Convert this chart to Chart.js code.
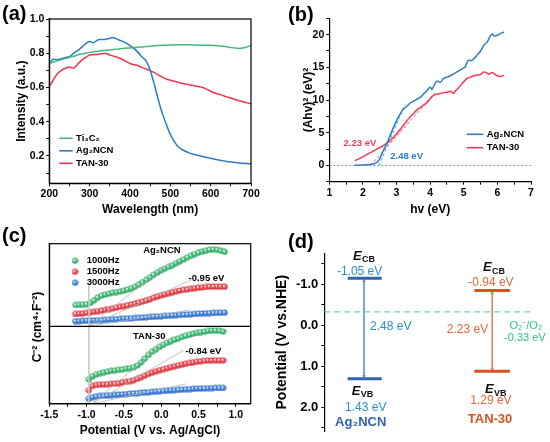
<!DOCTYPE html>
<html lang="en">
<head>
<meta charset="UTF-8">
<title>Optical absorption, Tauc, Mott-Schottky and band positions</title>
<script src="https://cdn.jsdelivr.net/npm/chart.js@4.4.1/dist/chart.umd.min.js"></script>
<style>
  html, body { margin: 0; padding: 0; background: #fff; }
  #fig { position: relative; width: 550px; height: 442px; overflow: hidden; }
  .panel { position: absolute; width: 275px; height: 221px; }
</style>
</head>
<body>
<div id="fig">
  <div class="panel" style="left:0;top:0"><canvas id="chartA"></canvas></div>
  <div class="panel" style="left:275px;top:0"><canvas id="chartB"></canvas></div>
  <div class="panel" style="left:0;top:221px"><canvas id="chartC"></canvas></div>
  <div class="panel" style="left:275px;top:221px"><canvas id="chartD"></canvas></div>
</div>
<script>
// ---- (a) UV-vis DRS ----
var wavelength = [200,210,220,230,240,250,260,270,280,290,300,310,320,330,340,350,360,370,380,390,
  400,410,420,430,440,450,460,470,480,490,500,510,520,530,540,550,560,570,580,590,
  600,610,620,630,640,650,660,670,680,690,700];
var absTi3C2 = [0.740,0.748,0.756,0.763,0.770,0.776,0.782,0.790,0.795,0.800,0.805,0.809,0.812,0.815,0.818,0.820,0.822,0.824,0.827,0.829,
  0.831,0.833,0.835,0.837,0.839,0.841,0.843,0.845,0.846,0.847,0.848,0.849,0.850,0.850,0.849,0.849,0.848,0.847,0.847,0.846,
  0.846,0.845,0.843,0.841,0.838,0.834,0.830,0.828,0.830,0.837,0.846];
var absAg2NCN = [0.740,0.765,0.762,0.768,0.775,0.780,0.800,0.815,0.835,0.855,0.868,0.862,0.878,0.880,0.882,0.888,0.890,0.880,0.871,0.860,
  0.845,0.828,0.805,0.778,0.755,0.700,0.620,0.530,0.450,0.385,0.325,0.283,0.252,0.236,0.224,0.215,0.208,0.202,0.197,0.191,
  0.186,0.181,0.176,0.172,0.168,0.165,0.162,0.159,0.157,0.155,0.153];
var absTAN30 = [0.604,0.645,0.680,0.700,0.712,0.720,0.712,0.735,0.758,0.775,0.790,0.792,0.793,0.797,0.798,0.790,0.782,0.775,0.765,0.752,
  0.740,0.733,0.727,0.716,0.708,0.698,0.688,0.674,0.660,0.649,0.642,0.636,0.630,0.624,0.619,0.614,0.609,0.605,0.600,0.590,
  0.578,0.568,0.560,0.553,0.545,0.538,0.530,0.523,0.516,0.510,0.505];
var aXMajor = [200,300,400,500,600,700], aXMinor = [250,350,450,550,650];
var aYMajor = [0.2,0.4,0.6,0.8,1.0], aYMinor = [0.1,0.3,0.5,0.7,0.9];

// ---- (b) Tauc plot ----
var hvAg2NCN = [1.76,1.9,2.0,2.1,2.2,2.3,2.4,2.5,2.6,2.7,2.8,2.9,3.0,3.1,3.2,3.3,3.4,3.5,3.6,3.7,3.8,3.9,4.0,4.05,4.1,4.2,4.3,4.4,4.5,4.6,4.7,4.8,4.9,5.0,5.05,5.1,5.15,5.2,5.3,5.4,5.5,5.6,5.7,5.8,5.85,5.9,6.0,6.1,6.2];
var tauAg2NCN = [0.0,0.02,0.05,0.08,0.12,0.2,0.4,1.0,2.2,3.2,4.4,5.7,6.8,7.8,8.6,9.0,9.5,9.8,10.1,10.4,10.9,11.4,12.0,11.6,12.1,12.9,12.7,13.3,13.5,13.7,14.0,14.3,14.6,14.9,15.1,15.8,16.1,16.0,16.3,16.9,17.5,18.4,18.9,19.9,20.1,19.8,19.9,20.2,20.4];
var hvTAN30 = [1.76,1.9,2.0,2.1,2.2,2.3,2.4,2.5,2.6,2.7,2.8,2.9,3.0,3.1,3.2,3.3,3.4,3.5,3.6,3.7,3.8,3.9,4.0,4.1,4.2,4.3,4.4,4.5,4.6,4.65,4.7,4.75,4.8,4.9,5.0,5.1,5.2,5.3,5.4,5.5,5.6,5.7,5.75,5.8,5.85,5.9,6.0,6.1,6.2];
var tauTAN30 = [0.72,1.05,1.3,1.6,1.9,2.15,2.45,2.7,3.0,3.35,3.75,4.25,4.8,5.45,6.1,6.75,7.4,7.9,8.45,8.85,9.2,9.6,10.2,10.7,10.9,11.0,11.1,11.2,11.35,11.2,11.0,11.4,11.6,12.2,12.8,13.3,13.5,13.7,13.8,13.9,14.3,14.1,13.9,14.1,14.2,14.0,13.7,13.6,13.8];
var fitHvAg2NCN = [2.48, 3.25], fitTauAg2NCN = [0, 9.3];
var fitHvTAN30 = [2.23, 4.15], fitTauTAN30 = [0, 11.1];
var bXMajor = [1,2,3,4,5,6,7], bXMinor = [1.5,2.5,3.5,4.5,5.5,6.5];
var bYMajor = [0,5,10,15,20], bYMinor = [-2.5,2.5,7.5,12.5,17.5,22.5];

// ---- (c) Mott-Schottky (arbitrary C^-2 units, each sub-panel 0..10) ----
var potAg2NCN = [-1.15,-1.10,-1.05,-1.00,-0.95,-0.90,-0.85,-0.80,-0.75,-0.70,-0.65,-0.60,-0.55,-0.50,-0.45,-0.40,-0.35,-0.30,-0.25,-0.20,
  -0.15,-0.10,-0.05,0.00,0.05,0.10,0.15,0.20,0.25,0.30,0.35,0.40,0.45,0.50,0.55,0.60,0.65,0.70,0.75,0.80,0.85];
var ag1000 = [2.58,2.60,2.62,2.68,2.85,3.15,3.50,3.72,3.85,3.95,4.08,4.15,4.22,4.32,4.45,4.60,4.80,5.05,5.35,5.65,
  5.95,6.25,6.55,6.80,7.00,7.20,7.42,7.65,7.88,8.10,8.35,8.55,8.75,8.92,9.05,9.15,9.28,9.32,9.28,9.15,9.02];
var ag1500 = [1.49,1.52,1.57,1.63,1.70,1.76,1.83,1.90,1.98,2.08,2.18,2.27,2.36,2.45,2.55,2.65,2.76,2.88,3.00,3.14,
  3.30,3.46,3.62,3.76,3.88,4.00,4.12,4.24,4.34,4.42,4.50,4.56,4.62,4.68,4.72,4.76,4.80,4.81,4.81,4.80,4.79];
var ag3000 = [0.62,0.64,0.66,0.68,0.70,0.72,0.74,0.76,0.79,0.82,0.85,0.87,0.90,0.92,0.95,0.98,1.01,1.04,1.07,1.10,
  1.13,1.16,1.20,1.23,1.26,1.29,1.32,1.35,1.38,1.41,1.44,1.47,1.50,1.53,1.55,1.58,1.60,1.62,1.63,1.64,1.65];
var potTAN30 = [-0.97,-0.92,-0.87,-0.82,-0.77,-0.72,-0.67,-0.62,-0.57,-0.52,-0.47,-0.42,-0.37,-0.32,-0.27,-0.22,-0.17,-0.12,-0.07,-0.02,
  0.03,0.08,0.13,0.18,0.23,0.28,0.33,0.38,0.43,0.48,0.53,0.58,0.63,0.68,0.73,0.78,0.83];
var tan1000 = [3.15,3.55,3.80,3.95,4.05,4.15,4.25,4.32,4.38,4.45,4.52,4.60,4.72,4.95,5.35,5.85,6.30,6.72,7.05,7.35,
  7.62,7.88,8.08,8.28,8.45,8.62,8.78,8.92,9.05,9.15,9.24,9.32,9.40,9.46,9.48,9.44,9.35];
var tan1500 = [1.73,2.30,2.42,2.46,2.50,2.52,2.55,2.60,2.66,2.74,2.83,2.92,3.05,3.22,3.42,3.64,3.84,4.02,4.18,4.34,
  4.47,4.60,4.73,4.85,4.96,5.06,5.16,5.26,5.35,5.43,5.50,5.55,5.58,5.60,5.61,5.61,5.60];
var tan3000 = [0.65,0.85,0.95,1.00,1.04,1.08,1.11,1.14,1.18,1.21,1.25,1.29,1.33,1.37,1.41,1.45,1.49,1.53,1.57,1.61,
  1.65,1.69,1.73,1.76,1.80,1.83,1.86,1.89,1.92,1.95,1.97,1.99,2.01,2.02,2.03,2.03,2.03];
// linear fits: first entry = common start, then ends for 1000/1500/3000 Hz
var fitPotAg2NCN = [-0.97, 0.10, 0.40, 0.40], fitCAg2NCN = [0, 7.6, 5.6, 2.0];
var fitPotTAN30 = [-0.93, 0.15, 0.30, 0.33], fitCTAN30 = [0, 8.7, 6.9, 2.55];
var flatBand = -0.97;
var cXMajor = [-1.5,-1.0,-0.5,0.0,0.5,1.0], cXMinor = [-1.25,-0.75,-0.25,0.25,0.75];

// ---- (d) band positions (V vs. NHE, as drawn) ----
var cbLevel = [-1.15, -0.85];
var vbLevel = [1.30, 1.12];
var o2Level = -0.33;
var dYMajor = [-1.0,0.0,1.0,2.0], dYMinor = [-1.5,-0.5,0.5,1.5,2.5];

var FONT = '"Liberation Sans", Arial, sans-serif';
Chart.defaults.font.family = FONT;
Chart.defaults.color = '#000';
Chart.defaults.animation = false;
Chart.defaults.maintainAspectRatio = false;
Chart.defaults.plugins.legend.display = false;
Chart.defaults.plugins.tooltip.enabled = false;

function pts(xs, ys) {
  return xs.map(function (x, i) { return {x: x, y: ys[i]}; });
}

function curve(label, xs, ys, color, extra) {
  return Object.assign({
    label: label, data: pts(xs, ys), borderColor: color, backgroundColor: color,
    borderWidth: 1.5, showLine: true, pointRadius: 0, tension: 0.3
  }, extra || {});
}

// linear axis with explicit major/minor ticks and fixed thickness
function axis(o) {
  var horiz = o.position === 'bottom';
  return {
    type: 'linear', position: o.position, min: o.min, max: o.max, reverse: !!o.reverse,
    stack: o.stack, stackWeight: o.stackWeight,
    afterBuildTicks: function (s) {
      var list = (o.major || []).map(function (v) { return {value: v}; })
        .concat((o.minor || []).map(function (v) { return {value: v, minor: true}; }));
      list.sort(function (a, b) { return a.value - b.value; });
      s.ticks = list;
    },
    afterFit: function (s) { if (horiz) s.height = o.size; else s.width = o.size; },
    border: {display: true, color: '#000', width: 1.2},
    grid: {display: true, drawOnChartArea: false, drawTicks: true, tickLength: 3, color: '#000', lineWidth: 1},
    ticks: {
      padding: o.pad || 2, color: '#000', autoSkip: false, maxRotation: 0,
      font: {size: o.tickSize || 10.5, weight: 'bold'},
      callback: function (v, i, ticks) { return ticks[i].minor ? '' : o.fmt(v); }
    },
    title: o.title ? {
      display: true, text: o.title, color: '#000',
      font: {size: o.titleSize || 12, weight: 'bold', lineHeight: 1.2},
      padding: horiz ? {top: 0, bottom: o.titlePad} : {top: o.titlePad, bottom: 0}
    } : {display: false}
  };
}
function fix1(v) { return v.toFixed(1); }
function plain(v) { return String(v); }

function sphere(color, dark) {
  var c = document.createElement('canvas');
  c.width = c.height = 7;
  var g = c.getContext('2d');
  var grd = g.createRadialGradient(2.6, 2.6, 0.2, 3.5, 3.5, 3.5);
  grd.addColorStop(0, '#ffffff');
  grd.addColorStop(0.45, color);
  grd.addColorStop(1, dark);
  g.fillStyle = grd;
  g.beginPath(); g.arc(3.5, 3.5, 3.1, 0, Math.PI * 2); g.fill();
  return c;
}

// frame, panel letter, free text and inset legend
var decor = {
  id: 'decor',
  afterDraw: function (chart, args, o) {
    var ctx = chart.ctx, a = chart.chartArea;
    ctx.save();
    ctx.textBaseline = 'middle';
    ctx.strokeStyle = '#000';
    ctx.lineWidth = 1.2;
    if (o.frame) ctx.strokeRect(a.left, a.top, a.right - a.left, a.bottom - a.top);
    if (o.divider) {
      var yd = chart.scales[o.divider].bottom;
      ctx.beginPath(); ctx.moveTo(a.left, yd); ctx.lineTo(a.right, yd); ctx.stroke();
    }
    if (o.letter) {
      ctx.fillStyle = '#000'; ctx.textAlign = 'left';
      ctx.font = 'bold 20px ' + FONT;
      ctx.fillText(o.letter.text, o.letter.x, o.letter.y);
    }
    if (o.sideTitle) {
      ctx.save();
      ctx.translate(o.sideTitle.x, o.sideTitle.y);
      ctx.rotate(-Math.PI / 2);
      ctx.textAlign = 'center'; ctx.fillStyle = '#000';
      ctx.font = 'bold 12px ' + FONT;
      ctx.fillText(o.sideTitle.text, 0, 0);
      ctx.restore();
    }
    (o.notes || []).forEach(function (n) {
      var px = chart.scales[n.xAxis || 'x'].getPixelForValue(n.x);
      var py = chart.scales[n.yAxis || 'y'].getPixelForValue(n.y);
      var f = (n.font || 'bold 9.5px') + ' ' + FONT, sf = (n.subFont || 'bold 9px') + ' ' + FONT;
      ctx.font = f;
      var w = ctx.measureText(n.text).width, sw = 0;
      if (n.sub) { ctx.font = sf; sw = ctx.measureText(n.sub).width + 0.5; }
      var align = n.align || 'center';
      var x0 = align === 'center' ? px - (w + sw) / 2 : (align === 'right' ? px - w - sw : px);
      ctx.textAlign = 'left';
      ctx.fillStyle = n.color || '#000';
      ctx.font = f;
      ctx.fillText(n.text, x0, py);
      if (n.sub) { ctx.font = sf; ctx.fillText(n.sub, x0 + w + 0.5, py + 3.5); }
    });
    if (o.legend) {
      var L = o.legend;
      L.items.forEach(function (di, k) {
        var ds = chart.data.datasets[di], y = L.y + k * L.dy;
        if (L.marker === 'sphere') {
          ctx.drawImage(ds.pointStyle, L.x - ds.pointStyle.width / 2, y - ds.pointStyle.height / 2);
        } else {
          ctx.strokeStyle = ds.borderColor; ctx.lineWidth = 1.6;
          ctx.beginPath(); ctx.moveTo(L.x, y); ctx.lineTo(L.x + L.len, y); ctx.stroke();
        }
        ctx.fillStyle = '#000'; ctx.textAlign = 'left';
        ctx.font = 'bold 9.5px ' + FONT;
        ctx.fillText(ds.label, L.textX, y);
      });
    }
    ctx.restore();
  }
};
Chart.register(decor);

// ---------- (a) ----------
new Chart(document.getElementById('chartA'), {
  type: 'scatter',
  data: {datasets: [
    curve('Ti₃C₂', wavelength, absTi3C2, '#45b97c'),
    curve('Ag₂NCN', wavelength, absAg2NCN, '#2b7bbd'),
    curve('TAN-30', wavelength, absTAN30, '#f2344f')
  ]},
  options: {
    layout: {padding: {top: 19, right: 24, left: 0, bottom: 0}},
    scales: {
      x: axis({position: 'bottom', min: 200, max: 700, major: aXMajor, minor: aXMinor, fmt: plain,
               size: 37.7, title: 'Wavelength (nm)', titlePad: 3.8}),
      y: axis({position: 'left', min: 0.04, max: 1.0, major: aYMajor, minor: aYMinor, fmt: fix1,
               size: 49.3, title: 'Intensity (a.u.)', titlePad: 14.8})
    },
    plugins: {decor: {
      frame: true,
      letter: {text: '(a)', x: 2, y: 14},
      legend: {items: [0, 1, 2], x: 59.3, len: 13.4, textX: 76, y: 138.3, dy: 12.5}
    }}
  }
});

// ---------- (b) ----------
new Chart(document.getElementById('chartB'), {
  type: 'scatter',
  data: {datasets: [
    curve('Ag₂NCN', hvAg2NCN, tauAg2NCN, '#2e7fc0'),
    curve('TAN-30', hvTAN30, tauTAN30, '#f43b55'),
    curve('', fitHvAg2NCN, fitTauAg2NCN, '#6fb6e6', {borderDash: [3, 2], borderWidth: 1.2, tension: 0}),
    curve('', fitHvTAN30, fitTauTAN30, '#f58a9a', {borderDash: [3, 2], borderWidth: 1.2, tension: 0}),
    curve('', [bXMajor[0], bXMajor[bXMajor.length - 1]], [0, 0], '#777', {borderDash: [2, 2], borderWidth: 0.9, tension: 0})
  ]},
  options: {
    layout: {padding: {top: 18.3, right: 19, left: 0, bottom: 0}},
    scales: {
      x: axis({position: 'bottom', min: 1, max: 7, major: bXMajor, minor: bXMinor, fmt: plain,
               size: 39.3, title: 'hv (eV)', titlePad: 4.5}),
      y: axis({position: 'left', min: -2.5, max: 22.5, major: bYMajor, minor: bYMinor, fmt: plain,
               size: 54.3, title: '(Ahv)² (eV)²', titlePad: 26})
    },
    plugins: {decor: {
      letter: {text: '(b)', x: 13, y: 15},
      legend: {items: [0, 1], x: 191.7, len: 16.6, textX: 211.7, y: 134.3, dy: 13.4},
      notes: [
        {text: '2.23 eV', x: 1.91, y: 3.4, color: '#f43b55'},
        {text: '2.48 eV', x: 3.30, y: 1.4, color: '#2e7fc0'}
      ]
    }}
  }
});

// ---------- (c) ----------
var sGreen = sphere('#47c27c', '#2a9a5a'), sRed = sphere('#f24a52', '#c2303a'), sBlue = sphere('#4088e0', '#2a60b8');
function balls(label, xs, ys, img, axisId) {
  return {label: label, data: pts(xs, ys), yAxisID: axisId, showLine: false,
          pointStyle: img, pointRadius: 3, borderColor: '#000', backgroundColor: '#000'};
}
function fitLine(xs, ys, i, axisId) {
  return {data: pts([xs[0], xs[i]], [ys[0], ys[i]]), yAxisID: axisId, showLine: true,
          borderColor: '#b5b5b5', borderWidth: 0.8, pointRadius: 0};
}
new Chart(document.getElementById('chartC'), {
  type: 'scatter',
  data: {datasets: [
    fitLine(fitPotAg2NCN, fitCAg2NCN, 1, 'yT'),
    fitLine(fitPotAg2NCN, fitCAg2NCN, 2, 'yT'),
    fitLine(fitPotAg2NCN, fitCAg2NCN, 3, 'yT'),
    fitLine(fitPotTAN30, fitCTAN30, 1, 'yB'),
    fitLine(fitPotTAN30, fitCTAN30, 2, 'yB'),
    fitLine(fitPotTAN30, fitCTAN30, 3, 'yB'),
    {data: pts([flatBand, flatBand], [5.3, 0]), yAxisID: 'yT', showLine: true, borderColor: '#c8c8c8', borderWidth: 0.8, pointRadius: 0},
    {data: pts([flatBand, flatBand], [10, 0]), yAxisID: 'yB', showLine: true, borderColor: '#c8c8c8', borderWidth: 0.8, pointRadius: 0},
    balls('1000Hz', potAg2NCN, ag1000, sGreen, 'yT'),
    balls('1500Hz', potAg2NCN, ag1500, sRed, 'yT'),
    balls('3000Hz', potAg2NCN, ag3000, sBlue, 'yT'),
    balls('1000Hz', potTAN30, tan1000, sGreen, 'yB'),
    balls('1500Hz', potTAN30, tan1500, sRed, 'yB'),
    balls('3000Hz', potTAN30, tan3000, sBlue, 'yB')
  ]},
  options: {
    layout: {padding: {top: 22.7, right: 24.3, left: 0, bottom: 0}},
    scales: {
      x: axis({position: 'bottom', min: -1.5, max: 1.2, major: cXMajor, minor: cXMinor, fmt: fix1,
               size: 38.3, title: 'Potential (V vs. Ag/AgCl)', titlePad: 4.5}),
      yB: axis({position: 'left', min: 0, max: 10, major: [], minor: [], fmt: fix1, size: 49.3,
                stack: 'ms', stackWeight: 77.4}),
      yT: axis({position: 'left', min: 0, max: 10, major: [], minor: [], fmt: fix1, size: 49.3,
                stack: 'ms', stackWeight: 82.6})
    },
    plugins: {decor: {
      frame: true,
      divider: 'yT',
      letter: {text: '(c)', x: 2, y: 15},
      sideTitle: {text: 'C⁻² (cm⁴·F⁻²)', x: 38, y: 106},
      legend: {items: [8, 9, 10], marker: 'sphere', x: 75, textX: 86.7, y: 39.7, dy: 11},
      notes: [
        {text: 'Ag₂NCN', x: 0.01, y: 9.2, yAxis: 'yT'},
        {text: '-0.95 eV', x: 0.607, y: 5.8, yAxis: 'yT'},
        {text: 'TAN-30', x: -0.16, y: 8.75, yAxis: 'yB'},
        {text: '-0.84 eV', x: 0.565, y: 6.77, yAxis: 'yB'}
      ]
    }}
  }
});

// ---------- (d) ----------
var agBar = '#2f64b0', agText = '#2b8fcf', agArrow = '#5f95d6';
var tanBar = '#d9531f', tanText = '#e4683a', tanArrow = '#ea7a55';
var o2Color = '#5ed8a8';
function hbar(x0, x1, y, color) {
  return {data: [{x: x0, y: y}, {x: x1, y: y}], showLine: true, borderColor: color, borderWidth: 3, pointRadius: 0};
}
function arrow(x, yTop, yBot, color) {
  return {data: [{x: x, y: yTop + 0.06}, {x: x, y: yBot - 0.06}], showLine: true, borderColor: color, borderWidth: 0.9,
          pointStyle: 'triangle', pointRadius: 2.2, pointRotation: [0, 180], pointBackgroundColor: color, pointBorderWidth: 0};
}
new Chart(document.getElementById('chartD'), {
  type: 'scatter',
  data: {datasets: [
    {data: [{x: 0, y: o2Level}, {x: 9.32, y: o2Level}], showLine: true, borderColor: o2Color, borderWidth: 1.4,
     borderDash: [6, 4], pointRadius: 0},
    hbar(1.06, 2.60, cbLevel[0], agBar),
    hbar(1.06, 2.60, vbLevel[0], agBar),
    arrow(1.80, cbLevel[0], vbLevel[0], agArrow),
    hbar(6.80, 8.41, cbLevel[1], tanBar),
    hbar(6.80, 8.41, vbLevel[1], tanBar),
    arrow(7.61, cbLevel[1], vbLevel[1], tanArrow)
  ]},
  options: {
    layout: {padding: {top: 32.2, right: 5, left: 0, bottom: 7}},
    scales: {
      x: {type: 'linear', min: 0, max: 10, display: false},
      y: axis({position: 'left', min: -1.76, max: 2.58, reverse: true, major: dYMajor, minor: dYMinor, fmt: fix1,
               size: 49.3, tickSize: 13, pad: 3, title: 'Potential (V vs.NHE)', titleSize: 14, titlePad: -1.4})
    },
    plugins: {decor: {
      letter: {text: '(d)', x: 13, y: 21.7},
      notes: [
        {text: 'E', sub: 'CB', x: 1.80, y: -1.69, font: 'italic bold 13px', subFont: 'bold 9px', color: '#111'},
        {text: '-1.05 eV', x: 1.60, y: -1.32, font: '12px', color: agText},
        {text: '2.48 eV', x: 3.01, y: 0.03, font: '12px', color: agText},
        {text: 'E', sub: 'VB', x: 1.73, y: 1.60, font: 'italic bold 13px', subFont: 'bold 9px', color: '#111'},
        {text: '1.43 eV', x: 1.88, y: 2.0, font: '12px', color: agText},
        {text: 'Ag₂NCN', x: 1.65, y: 2.37, font: 'bold 13px', color: agBar},
        {text: 'E', sub: 'CB', x: 7.69, y: -1.41, font: 'italic bold 13px', subFont: 'bold 9px', color: '#111'},
        {text: '-0.94 eV', x: 7.55, y: -1.05, font: '12px', color: tanText},
        {text: '2.23 eV', x: 6.49, y: 0.10, font: '12px', color: tanText},
        {text: 'O₂⁻/O₂', x: 9.13, y: 0.02, font: '11px', color: '#2fc27e'},
        {text: '-0.33 eV', x: 9.09, y: 0.30, font: '11px', color: '#2fc27e'},
        {text: 'E', sub: 'VB', x: 7.77, y: 1.57, font: 'italic bold 13px', subFont: 'bold 9px', color: '#111'},
        {text: '1.29 eV', x: 7.55, y: 1.83, font: '12px', color: tanText},
        {text: 'TAN-30', x: 7.51, y: 2.29, font: 'bold 13px', color: tanBar}
      ]
    }}
  }
});
</script>
</body>
</html>
